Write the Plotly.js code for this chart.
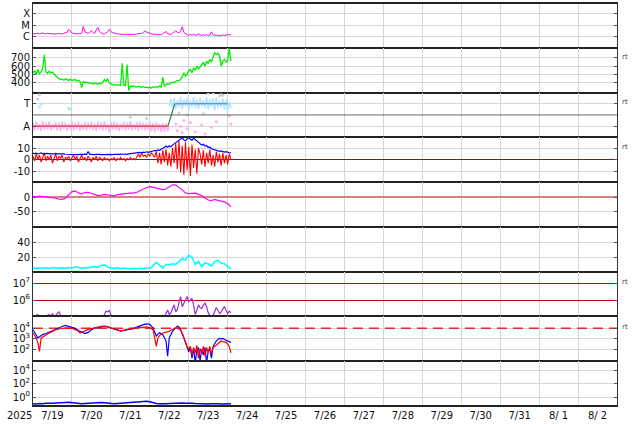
<!DOCTYPE html>
<html>
<head>
<meta charset="utf-8">
<script src="https://cdn.plot.ly/plotly-3.0.1.min.js"></script>
<style>html,body{margin:0;padding:0;background:#fff;}#chart{width:634px;height:424px;}</style>
</head>
<body>
<div id="chart"></div>
<script>
// ---------- DATA (times in hours from 2025-07-19 00:00 UTC) ----------
const startDate = '2025-07-19';
const endDate = '2025-08-03';
const yearLabel = '2025';

// X-ray flux, micro-W/m^2 (C=1, M=10, X=100), hourly
const xrayFlux = [1.9,1.8,2.0,2.1,1.8,2.0,2.2,1.9,1.8,2.0,1.9,2.0,1.95,1.8,1.75,1.9,2.0,1.85,1.8,1.95,2.2,2.5,
  4.5,2.8,2.2,2.0,
  1.9,1.8,2.0,1.85,2.1,
  7.9,2.8,2.2,2.0,2.5,3.4,2.4,2.0,4.0,6.6,2.8,2.1,1.8,1.8,2.2,2.8,4.5,2.8,2.4,2.1,1.9,
  1.8,1.75,1.65,1.7,1.6,1.65,1.6,1.62,1.66,1.58,1.62,1.66,1.74,1.8,1.9,2.0,
  2.5,3.2,2.6,2.2,
  1.9,1.8,1.7,1.66,1.6,1.62,1.66,1.5,
  1.8,2.5,3.0,1.8,1.6,1.65,2.0,2.5,3.4,2.4,2.2,3.2,7.6,2.5,1.8,1.5,
  1.4,1.6,1.38,1.66,1.45,1.38,1.8,1.5,1.32,1.45,1.38,1.6,1.32,1.45,
  2.75,1.5,
  1.38,1.32,1.4,1.26,1.35,1.45,1.29,1.38,1.6,1.45,1.66];
const xrayTickVals = [1, 10, 100];
const xrayTickText = ['C', 'M', 'X'];

// Solar wind speed km/s, hourly
const windSpeed = [520,545,500,560,510,530,575,735,530,515,540,520,530,510,480,465,455,
  440,445,432,450,438,430,442,428,435,440,425,430,418,345,415,405,410,398,402,
  395,388,400,392,385,398,390,410,440,420,445,400,
  385,378,382,372,380,375,370,635,372,368,620,310,
  362,358,365,355,350,360,352,348,355,345,350,342,348,340,352,345,
  355,348,362,350,465,360,
  380,390,385,400,410,405,420,430,425,
  455,470,520,480,500,
  545,560,520,580,550,600,570,590,
  620,645,600,660,630,680,650,700,
  760,740,755,720,600,660,680,650,670,810,660];
const speedTicks = [400, 500, 600, 700];

// IMF sector (A = 1, T = 3)
const sectorTickVals = [1, 3];
const sectorTickText = ['A', 'T'];
const awayBand = [1.3,0.6,1.4,0.7,1.2,0.55,1.45,0.65,1.3,0.7,1.4,0.6,1.2,0.8,1.35,0.6,1.3,0.55,1.4,0.75,
  1.3,0.6,1.2,0.7,1.45,0.62,1.3,0.7,1.4,0.55,1.2,0.68,1.35,0.6,1.3,0.75,1.4,0.65,1.25,0.55,
  1.4,0.7,1.3,0.62,1.45,0.68,1.2,0.5,1.35,0.7,1.4,0.65,1.3,0.55,1.25,0.72,1.4,0.6,1.3,0.7,
  1.45,0.62,1.2,0.7,1.35,0.55,1.4,0.68,1.3,0.62,1.25,0.7,1.4,0.5,1.3,0.45,1.35,0.6,1.2,0.5,
  1.3,0.48,1.25,0.55,1.0];
const towardBand = [2.8,3.4,2.6,3.5,2.5,3.3,2.7,3.6,2.5,3.4,2.8,3.5,2.4,3.3,2.7,3.6,2.6,3.4,2.5,3.5,
  2.8,3.3,2.6,3.6,2.5,3.4,2.7,3.5,2.4,3.6,2.6,3.3,2.7,3.5,2.5,3.4,2.3,3.2,2.6];
const pinkDotHours = [88,89,91,92,93,95,97,100,104,106,110,113,121,122];
const pinkDotVals  = [1.2,0.6,1.0,0.4,1.5,0.8,1.3,0.5,1.1,0.3,0.9,1.4,1.9,1.2];
const blueDotHours = [4,5,22,23];
const blueDotVals  = [2.7,3.0,2.6,2.5];
const grayDotHours = [3,4,60,70,90,95,105,108,111,115,116,117];
const grayDotVals  = [3.4,3.8,1.8,1.7,2.2,2.0,2.1,3.9,3.95,3.7,3.8,3.75];
const awayLevelHours = [0, 83.2];
const awayLevelVals = [1, 1];
const switchHours = [83.2, 87.4];
const switchVals = [1, 3];
const towardLevelHours = [87.4, 120];
const towardLevelVals = [3, 3];

// IMF Bt and Bz (nT), hourly
const bt = [5.5,5.2,5.6,5.0,5.3,5.8,5.1,5.4,5.2,5.5,5.0,5.3,4.9,5.2,5.4,5.0,5.1,4.8,5.2,5.0,4.7,
  4.6,4.8,4.5,4.9,4.4,4.7,4.5,4.3,4.6,4.4,4.5,4.8,4.4,7.0,4.6,4.5,4.2,4.4,4.6,4.3,4.5,4.4,4.2,4.5,4.3,4.6,4.4,
  4.6,4.4,4.7,4.5,4.3,4.6,4.8,4.5,4.7,4.9,4.6,5.0,5.2,5.4,
  5.6,5.8,6.2,5.9,6.3,6.0,6.5,6.2,6.8,6.4,6.6,7.0,7.5,
  8.0,7.6,8.4,8.1,9.0,9.5,
  10.5,11.8,10.8,12.0,11.2,12.5,13.5,
  14.5,16.0,16.5,17.5,18.8,17.0,16.2,18.0,19.2,17.5,16.8,18.5,17.2,16.0,15.2,
  14.0,12.5,13.2,11.8,12.2,10.5,11.0,9.5,9.0,
  8.5,8.0,7.6,7.2,7.5,6.8,6.5,6.9,6.2,6.0,5.8];
const bz = [3,-1,5,0,4,-2,2,6,-1,3,0,4,-3,2,5,-1,3,1,4,-2,2,
  1,3,-1,2,4,0,3,-2,1,4,0,2,-1,3,1,-2,2,0,3,-1,2,1,-1,2,0,1,-1,
  1,0,2,-1,1,0,2,0,1,-1,1,0,2,0,1,0,
  3,5,2,6,3,4,2,5,3,6,4,
  2,7,-3,6,-4,8,-2,9,-5,6,-6,10,-3,
  14,-8,16,-11,12,-13,15,-9,11,-14,13,-7,9,-12,10,
  5,-4,8,-6,6,-3,9,-5,4,-6,7,-2,5,-5,6,-3,4,-4,5,0];
const bTicks = [-10, 0, 10];
const bTickText = ['-10', '0', '10'];

// Magenta index (nT), every 2 hours
const dstIndex = [2,1,3,2,1,0,-1,-4,-7,-8,-4,8,18,20,14,11,15,16,12,7,5,6,9,7,5,4,8,10,11,12,13,13,
  16,22,28,32,35,33,31,28,25,27,35,41,40,33,24,14,11,12,13,9,5,-3,-10,-12,-8,-11,-13,-16,-22,-33];
const dstTicks = [-50, 0];
const dstTickText = ['-50', '0'];

// Cyan density, every 2 hours
const density = [5,4.2,5.5,4.8,5.2,4.5,5.8,5.0,4.6,5.3,4.7,5.6,5.2,6.8,5.5,4.8,5.6,5.0,6.2,7.0,6.0,8.5,9.4,6.5,
  5.0,4.6,5.4,4.2,5.0,4.4,3.8,4.6,4.0,4.8,4.2,5.0,4.5,8.0,13.0,9.0,5.0,10.0,9.5,11.0,10.0,14.0,18.0,16.0,
  22.5,20.0,10.0,14.0,7.0,12.0,11.0,8.0,13.5,16.0,12.0,11.0,8.0,4.0];
const densityTicks = [20, 40];

// Purple flux, hourly
const purpleFlux = [8e4,9e4,1.25e5,1.4e5,8e4,6e4,8e4,7e4,8e4,1.25e5,1.4e5,1.1e5,1.6e5,1e5,1.25e5,1.6e5,2e5,1.25e5,8e4,6e4,7e4,8e4,6e4,7e4,8e4,9e4,1.25e5,8e4,
  6e4,7e4,6e4,8e4,7e4,6e4,7e4,8e4,6e4,7e4,6e4,8e4,7e4,6e4,8e4,9e4,
  1.4e5,2.2e5,2e5,2.4e5,1.4e5,8e4,
  7e4,6e4,8e4,7e4,6e4,7e4,8e4,6e4,7e4,6e4,8e4,7e4,6e4,7e4,8e4,6e4,7e4,6e4,8e4,7e4,6e4,7e4,8e4,6e4,7e4,8e4,7e4,9e4,8e4,
  1.1e5,1.25e5,1e5,1.6e5,2.6e5,1.4e5,1.8e5,3.2e5,5.2e5,2e5,2.8e5,7e5,1.6e6,4e5,6.6e5,1.1e6,1.6e6,8e5,1.05e6,1.25e6,5e5,
  1.4e5,2.5e5,5.2e5,3.5e5,3.2e5,5e5,6.6e5,4e5,1.8e5,1.25e5,1e5,1.25e5,2e5,3.6e5,2.5e5,1.6e5,2e5,2.8e5,4.2e5,2.5e5,1.6e5,2.2e5,1.8e5];
const purpleTicks = [1e6, 1e7];
const purpleTickText = ['10<sup>6</sup>', '10<sup>7</sup>'];

// Electron flux (two sources)
const elecHours = [0,2,3,4,5,6,8,10,12,14,16,18,20,22,24,26,28,29,30,32,34,36,38,40,42,44,46,48,50,52,54,56,58,60,62,64,66,68,70,72,74,
  75,76,77,78,80,82,83,84,85,86,
  88,89,90,91,92,93,94,95,96,97,98,99,100,101,102,103,104,105,106,107,108,109,110,111,112,113,114,115,116,117,118,119,120,121,122];
const elecBlue = [7200,2000,1230,1580,2140,2500,3160,4370,5600,7600,10000,14100,17800,15100,12600,9500,6000,5000,4000,3160,4000,7200,10000,12000,13200,14800,13200,10500,8900,6300,5250,6300,7200,8300,9100,12600,17800,21400,25100,22400,10000,
  4000,1820,2820,3700,2500,660,24,1260,2500,5100,
  11200,14800,12600,7200,3160,1260,500,148,63,158,16,126,6.3,79,158,10,100,32,158,6.3,63,126,16,200,400,630,890,1120,1000,1120,890,760,630,560,470];
const elecRed = [3550,1230,400,69,1230,1580,2500,3550,5000,7200,8300,10000,10500,10000,10000,7100,5100,3550,4000,5600,7600,9500,10700,12600,15100,15800,13200,10500,8900,6600,5500,6300,7900,8900,10000,10700,12000,12600,13200,11200,7200,
  1230,200,1230,2000,3550,4000,4470,5000,6300,7900,
  10700,10000,8900,7200,3160,1230,400,200,100,200,32,158,50,250,16,126,40,200,25,158,50,200,40,158,200,280,400,500,630,560,500,470,320,200,49];
const elecThresholdHours = [0, 360];
const elecThresholdVals = [1e4, 1e4];
const elecTicks = [100, 1000, 10000];
const elecTickText = ['10<sup>2</sup>', '10<sup>3</sup>', '10<sup>4</sup>'];

// Proton flux, every 2 hours
const protonFlux = [0.10,0.09,0.11,0.10,0.12,0.11,0.12,0.13,0.15,0.17,0.16,0.17,0.14,0.12,0.11,0.10,0.11,0.12,0.13,0.15,0.16,0.15,0.14,0.12,
  0.11,0.10,0.11,0.12,0.11,0.12,0.13,0.14,0.16,0.19,0.23,0.24,0.20,0.14,0.11,0.10,0.09,0.10,0.11,0.12,0.13,0.14,0.13,0.12,
  0.13,0.12,0.11,0.10,0.11,0.10,0.09,0.10,0.11,0.10,0.09,0.10,0.11,0.10];
const protonTicks = [1, 100, 10000];
const protonTickText = ['10<sup>0</sup>', '10<sup>2</sup>', '10<sup>4</sup>'];

const rightLabel = 'rt';

// ---------- helpers ----------
const T0 = Date.UTC(2025, 6, 19);
function toDate(h) { return new Date(T0 + h * 3600000).toISOString().slice(0, 19).replace('T', ' '); }
function times(vals, startH, stepH) { return vals.map((_, i) => toDate(startH + i * stepH)); }
function hoursToDates(hs) { return hs.map(toDate); }

const FONT = 'DejaVu Sans, Verdana, sans-serif';
const line = (x, y, ax, color, width, extra) => Object.assign({
  type: 'scatter', mode: 'lines', x: x, y: y, xaxis: 'x', yaxis: ax,
  line: { color: color, width: width }, hoverinfo: 'skip', showlegend: false
}, extra || {});
const dots = (x, y, ax, color, size) => ({
  type: 'scatter', mode: 'markers', x: x, y: y, xaxis: 'x', yaxis: ax,
  marker: { color: color, size: size }, hoverinfo: 'skip', showlegend: false
});

const traces = [
  line(times(xrayFlux, 0, 1), xrayFlux, 'y', '#ff00ff', 1),
  line(times(windSpeed, 0, 1), windSpeed, 'y2', '#00ee00', 1.3),
  line(times(awayBand, 0, 1), awayBand, 'y3', '#f9b3ef', 1.5),
  line(times(towardBand, 84, 1), towardBand, 'y3', '#ade6ff', 1.5),
  dots(hoursToDates(grayDotHours), grayDotVals, 'y3', '#d0d0d0', 3),
  dots(hoursToDates(blueDotHours), blueDotVals, 'y3', '#ade6ff', 3),
  dots(hoursToDates(pinkDotHours), pinkDotVals, 'y3', '#f9b3ef', 3),
  line(hoursToDates(awayLevelHours), awayLevelVals, 'y3', '#d23a3a', 1.2),
  line(hoursToDates(switchHours), switchVals, 'y3', '#3b7f45', 1.2),
  line(hoursToDates(towardLevelHours), towardLevelVals, 'y3', '#5a6cf0', 1.2),
  line(times(bz, 0, 1), bz, 'y4', '#ff0000', 1.1),
  line(times(bt, 0, 1), bt, 'y4', '#0000ff', 1.2),
  line(times(dstIndex, 0, 2), dstIndex, 'y5', '#ff00ff', 1.2),
  line(times(density, 0, 2), density, 'y6', '#00ffff', 1.6),
  line(times(purpleFlux, 0, 1), purpleFlux, 'y7', '#9b30d0', 1.2),
  line(hoursToDates(elecThresholdHours), elecThresholdVals, 'y8', '#dd3030', 1.5, { line: { color: '#dd3030', width: 1.5, dash: '10px,6px' } }),
  line(hoursToDates(elecHours), elecBlue, 'y8', '#0000ff', 1.2),
  line(hoursToDates(elecHours), elecRed, 'y8', '#ff0000', 1.2),
  line(times(protonFlux, 0, 2), protonFlux, 'y9', '#0000ff', 1.5)
];

const GRID = '#d6d6d6';
function yax(n, opts) {
  const base = {
    domain: [1 - n / 9, 1 - (n - 1) / 9], anchor: 'x',
    showline: true, linecolor: '#333', linewidth: 1, mirror: 'ticks',
    ticks: 'inside', ticklen: 3, tickcolor: '#555',
    showgrid: true, gridcolor: GRID, gridwidth: 1, zeroline: false,
    tickmode: 'array', tickfont: { family: FONT, size: 10, color: '#111' },
    fixedrange: true
  };
  return Object.assign(base, opts);
}

const layout = {
  width: 634, height: 424,
  margin: { l: 33, r: 17, t: 3, b: 18, pad: 0 },
  paper_bgcolor: '#fff', plot_bgcolor: '#fff',
  showlegend: false,
  xaxis: {
    type: 'date', range: [startDate, endDate], anchor: 'y9', domain: [0, 1],
    tick0: startDate, dtick: 86400000, ticklabelmode: 'period', tickformat: '%-m/%e',
    showgrid: true, gridcolor: GRID, gridwidth: 1, zeroline: false,
    showline: true, linecolor: '#222', linewidth: 1, mirror: 'all', ticks: '',
    tickfont: { family: FONT, size: 10, color: '#111' }, fixedrange: true
  },
  yaxis: yax(1, { type: 'log', range: [-0.95, 2.94], tickvals: xrayTickVals, ticktext: xrayTickText }),
  yaxis2: yax(2, { range: [285, 819], tickvals: speedTicks }),
  yaxis3: yax(3, { range: [0, 4], tickvals: sectorTickVals, ticktext: sectorTickText }),
  yaxis4: yax(4, { range: [-19.2, 19.2], tickvals: bTicks, ticktext: bTickText, zeroline: true, zerolinecolor: '#b00000', zerolinewidth: 1 }),
  yaxis5: yax(5, { range: [-100, 50], tickvals: dstTicks, ticktext: dstTickText, zeroline: true, zerolinecolor: '#d98080', zerolinewidth: 2 }),
  yaxis6: yax(6, { range: [0, 62], tickvals: densityTicks }),
  yaxis7: yax(7, { type: 'log', range: [5.03, 7.68], tickvals: purpleTicks, ticktext: purpleTickText, gridcolor: '#cc0000' }),
  yaxis8: yax(8, { type: 'log', range: [0.92, 5.09], tickvals: elecTicks, ticktext: elecTickText }),
  yaxis9: yax(9, { type: 'log', range: [-1.33, 5.3], tickvals: protonTicks, ticktext: protonTickText }),
  shapes: [
    { type: 'line', xref: 'paper', x0: 0, x1: 1, yref: 'y3', y0: 2, y1: 2, line: { color: '#666', width: 1 } },
    { type: 'line', xref: 'paper', x0: 0, x1: 1, yref: 'paper', y0: 1, y1: 1, line: { color: '#222', width: 2 } },
    { type: 'line', xref: 'paper', x0: 0, x1: 1, yref: 'paper', y0: 0, y1: 0, line: { color: '#222', width: 2 } }
  ],
  annotations: [
    { text: yearLabel, xref: 'paper', yref: 'paper', x: -0.023, y: -0.0225, xanchor: 'center', yanchor: 'middle', showarrow: false, font: { family: FONT, size: 10, color: '#111' } }
  ].concat([0.867, 0.755, 0.643, 0.308, 0.197].map(yy => ({
    text: rightLabel, xref: 'paper', yref: 'paper', x: 1.005, y: yy, xanchor: 'left', yanchor: 'middle',
    showarrow: false, font: { family: FONT, size: 7, color: '#444' }
  })))
};

Plotly.newPlot('chart', traces, layout, { staticPlot: true, displayModeBar: false });
</script>
</body>
</html>
